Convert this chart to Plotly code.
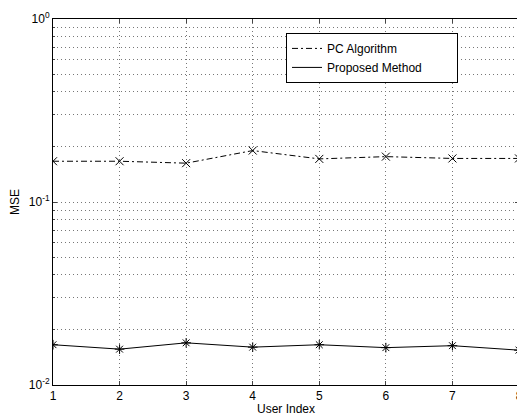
import plotly.graph_objects as go

user_index = [1, 2, 3, 4, 5, 6, 7, 8]
pc_algorithm = [0.167, 0.167, 0.163, 0.191, 0.172, 0.177, 0.173, 0.173]
proposed_method = [0.0166, 0.0157, 0.0170, 0.0161, 0.0166, 0.0160, 0.0164, 0.0155]
y_tick_vals = [0.01, 0.1, 1]
y_tick_text = ["10<sup>-2</sup>", "10<sup>-1</sup>", "10<sup>0</sup>"]
series_names = ["PC Algorithm", "Proposed Method"]

DASHDOT = "6px,3px,2px,3px"
GRID = dict(gridcolor="#777", griddash="1px,3px", gridwidth=1)
PAD = "\u00a0" * 9

fig = go.Figure()
fig.add_trace(go.Scatter(x=user_index, y=pc_algorithm, mode="lines+markers",
                         line=dict(color="black", width=1, dash=DASHDOT),
                         marker=dict(symbol="x-thin-open", size=8, color="black",
                                     line=dict(color="black", width=1)),
                         showlegend=False))
fig.add_trace(go.Scatter(x=user_index, y=proposed_method, mode="lines+markers",
                         line=dict(color="black", width=1),
                         marker=dict(symbol="asterisk-open", size=8, color="black",
                                     line=dict(color="black", width=1)),
                         showlegend=False))
fig.add_trace(go.Scatter(x=[None], y=[None], mode="lines", name=series_names[0] + PAD,
                         line=dict(color="black", width=1, dash=DASHDOT)))
fig.add_trace(go.Scatter(x=[None], y=[None], mode="lines", name=series_names[1] + PAD,
                         line=dict(color="black", width=1)))

axis_font = dict(family="Liberation Sans, Arial, sans-serif", size=12, color="black")

fig.update_layout(
    width=517, height=411,
    margin=dict(l=45, r=2, t=5, b=34),
    paper_bgcolor="white", plot_bgcolor="white",
    font=axis_font,
    legend=dict(x=0.5, y=0.962, xanchor="left", yanchor="top",
                bgcolor="white", bordercolor="black", borderwidth=1,
                font=dict(size=12), tracegroupgap=0, itemwidth=30),
    xaxis=dict(range=[1, 8], tickvals=user_index, ticks="inside", ticklen=4,
               showline=True, linecolor="black", linewidth=1, mirror="ticks",
               showgrid=True, zeroline=False, ticklabeloverflow="allow", **GRID,
               title=dict(text="User Index", standoff=2, font=dict(size=12))),
    yaxis=dict(type="log", range=[-2, 0], tickvals=y_tick_vals, ticktext=y_tick_text,
               ticks="inside", ticklen=4,
               showline=True, linecolor="black", linewidth=1, mirror="ticks",
               showgrid=True, zeroline=False, ticklabeloverflow="allow", **GRID,
               minor=dict(dtick="D1", ticks="inside", ticklen=2, showgrid=True, **GRID),
               title=dict(text="MSE", standoff=10, font=dict(size=12))),
)

fig.write_html("out.html")
